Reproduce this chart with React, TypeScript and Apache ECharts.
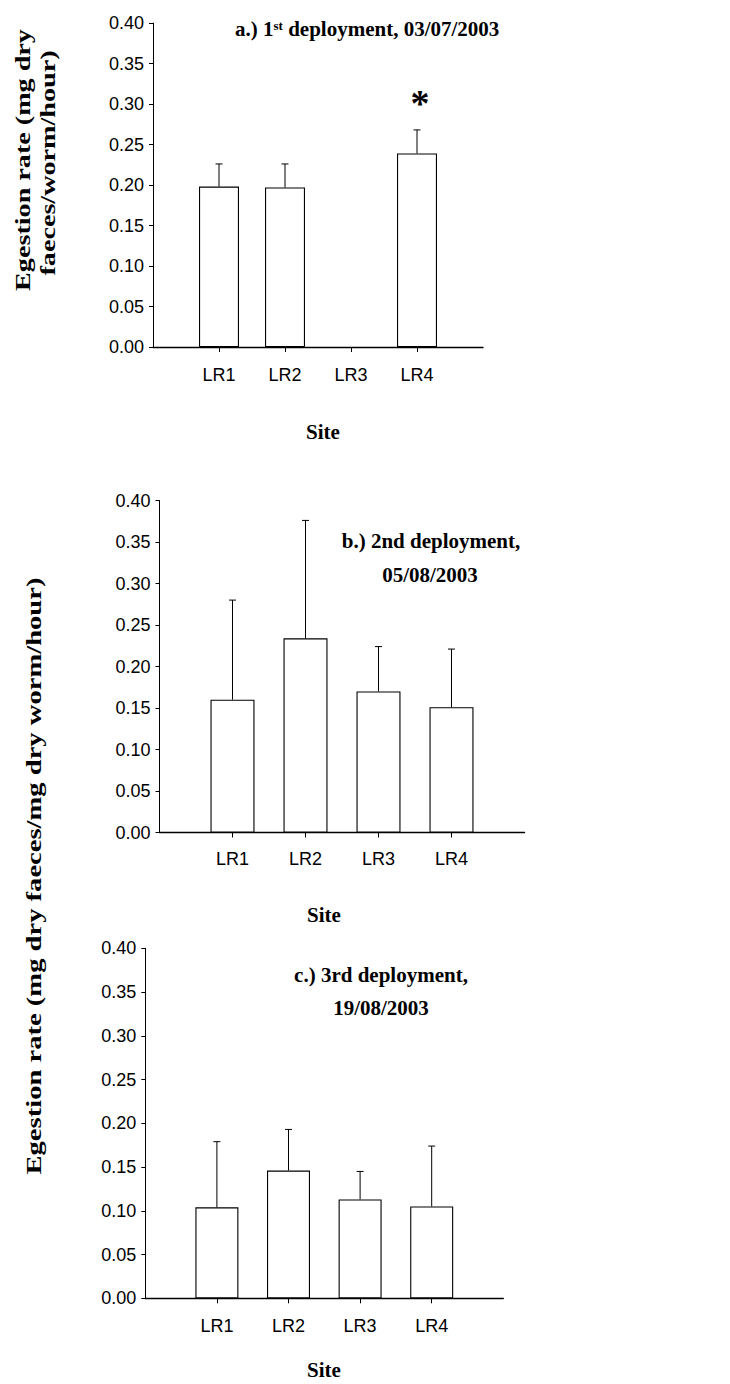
import React, { useEffect, useRef } from "react";
import * as echarts from "echarts";

// ---- data ----
const sites = ["LR1", "LR2", "LR3", "LR4"];
const ratesA: (number | null)[] = [0.198, 0.197, null, 0.239];
const errA: (number | null)[] = [0.028, 0.029, null, 0.029];
const sigA = ["", "", "", "*"];
const ratesB = [0.16, 0.234, 0.17, 0.151];
const errB = [0.12, 0.142, 0.054, 0.07];
const sigB = ["", "", "", ""];
const ratesC = [0.104, 0.146, 0.113, 0.105];
const errC = [0.075, 0.047, 0.032, 0.069];
const sigC = ["", "", "", ""];
const yMin = 0;
const yMax = 0.4;
const yStep = 0.05;

const SERIF = "'Liberation Serif', 'Times New Roman', serif";
const NARROW = "'Liberation Sans Narrow', 'Arial Narrow', 'Liberation Sans', Arial, sans-serif";

const panels = [
  { rates: ratesA, errs: errA, sig: sigA, grid: { left: 153, top: 23, width: 330, height: 324 }, barWidth: 40, labelMargin: 19 },
  { rates: ratesB, errs: errB, sig: sigB, grid: { left: 159.5, top: 500.5, width: 365, height: 332 }, barWidth: 44, labelMargin: 17 },
  { rates: ratesC, errs: errC, sig: sigC, grid: { left: 145.3, top: 948.3, width: 358, height: 350 }, barWidth: 43, labelMargin: 19 },
];

export default function App() {
  const ref = useRef<HTMLDivElement>(null);
  useEffect(() => {
    if (!ref.current) return;
    const chart = echarts.init(ref.current, null, { renderer: "svg" });
    const cats = ["", ...sites, ""];
    const grids: any[] = [];
    const xAxes: any[] = [];
    const yAxes: any[] = [];
    const series: any[] = [];
    panels.forEach((p, k) => {
      grids.push({ ...p.grid, containLabel: false });
      xAxes.push({
        type: "category",
        gridIndex: k,
        data: cats,
        boundaryGap: false,
        axisLine: { lineStyle: { color: "#000", width: 1.4 } },
        axisTick: { show: true, length: 5, interval: (i: number) => i >= 1 && i <= sites.length, lineStyle: { color: "#000" } },
        axisLabel: {
          interval: (i: number) => i >= 1 && i <= sites.length,
          color: "#000",
          fontFamily: NARROW,
          fontSize: 18,
          margin: p.labelMargin,
        },
        splitLine: { show: false },
      });
      yAxes.push({
        type: "value",
        gridIndex: k,
        min: yMin,
        max: yMax,
        interval: yStep,
        axisLine: { show: true, lineStyle: { color: "#000", width: 1 } },
        axisTick: { show: true, length: 4, lineStyle: { color: "#000" } },
        axisLabel: { color: "#000", fontFamily: NARROW, fontSize: 18, margin: 9, formatter: (v: number) => v.toFixed(2) },
        splitLine: { show: false },
      });
      series.push({
        type: "bar",
        xAxisIndex: k,
        yAxisIndex: k,
        barWidth: p.barWidth,
        data: ["-", ...p.rates.map((v) => (v == null ? "-" : v)), "-"],
        itemStyle: { color: "#fff", borderColor: "#000", borderWidth: 1.1 },
        silent: true,
      });
      const ebData: any[] = [];
      p.rates.forEach((v, i) => {
        const e = p.errs[i];
        if (v != null && e != null) ebData.push([i + 1, v, v + e, p.sig[i]]);
      });
      series.push({
        type: "custom",
        xAxisIndex: k,
        yAxisIndex: k,
        z: 5,
        data: ebData,
        renderItem: (params: any, api: any) => {
          const x = api.value(0);
          const lo = api.coord([x, api.value(1)]);
          const hi = api.coord([x, api.value(2)]);
          const cap = 3.5;
          const children: any[] = [
            { type: "line", shape: { x1: lo[0], y1: lo[1], x2: hi[0], y2: hi[1] }, style: { stroke: "#000", lineWidth: 1 } },
            { type: "line", shape: { x1: hi[0] - cap, y1: hi[1], x2: hi[0] + cap, y2: hi[1] }, style: { stroke: "#000", lineWidth: 1 } },
          ];
          const s = ebData[params.dataIndex][3];
          if (s) {
            children.push({
              type: "text",
              x: hi[0] + 3,
              y: hi[1] - 27,
              style: { text: s, fontFamily: SERIF, fontWeight: "bold", fontSize: 38, fill: "#000", align: "center", verticalAlign: "middle" },
            });
          }
          return { type: "group", children };
        },
      });
    });

    const titleStyle = { fontFamily: SERIF, fontWeight: "bold", fontSize: 21, fill: "#000" };
    const graphic: any[] = [
      {
        type: "text",
        x: 235,
        y: 29,
        style: {
          text: "{b|a.) 1}{s|st}{b| deployment, 03/07/2003}",
          align: "left",
          verticalAlign: "middle",
          rich: {
            b: { fontFamily: SERIF, fontWeight: "bold", fontSize: 21, fill: "#000" },
            s: { fontFamily: SERIF, fontWeight: "bold", fontSize: 13, fill: "#000", verticalAlign: "top" },
          },
        },
      },
      { type: "text", x: 431, y: 541, style: { ...titleStyle, text: "b.) 2nd deployment,", align: "center", verticalAlign: "middle" } },
      { type: "text", x: 430, y: 575, style: { ...titleStyle, text: "05/08/2003", align: "center", verticalAlign: "middle" } },
      { type: "text", x: 381, y: 975, style: { ...titleStyle, text: "c.) 3rd deployment,", align: "center", verticalAlign: "middle" } },
      { type: "text", x: 381, y: 1008, style: { ...titleStyle, text: "19/08/2003", align: "center", verticalAlign: "middle" } },
      { type: "text", x: 323, y: 432, style: { ...titleStyle, text: "Site", align: "center", verticalAlign: "middle" } },
      { type: "text", x: 324, y: 915, style: { ...titleStyle, text: "Site", align: "center", verticalAlign: "middle" } },
      { type: "text", x: 324, y: 1370, style: { ...titleStyle, text: "Site", align: "center", verticalAlign: "middle" } },
      {
        type: "text", x: 22, y: 160, rotation: Math.PI / 2, scaleX: 1.28,
        style: { ...titleStyle, fontSize: 22, text: "Egestion rate (mg dry", align: "center", verticalAlign: "middle" },
      },
      {
        type: "text", x: 47, y: 163, rotation: Math.PI / 2, scaleX: 1.28,
        style: { ...titleStyle, fontSize: 22, text: "faeces/worm/hour)", align: "center", verticalAlign: "middle" },
      },
      {
        type: "text", x: 34, y: 876, rotation: Math.PI / 2, scaleX: 1.3,
        style: { ...titleStyle, fontSize: 22, text: "Egestion rate (mg dry faeces/mg dry worm/hour)", align: "center", verticalAlign: "middle" },
      },
    ];

    chart.setOption({
      animation: false,
      backgroundColor: "#fff",
      grid: grids,
      xAxis: xAxes,
      yAxis: yAxes,
      series,
      graphic,
    });
    return () => chart.dispose();
  }, []);
  return <div ref={ref} style={{ position: "absolute", left: 0, top: 0, width: 730, height: 1384 }} />;
}
